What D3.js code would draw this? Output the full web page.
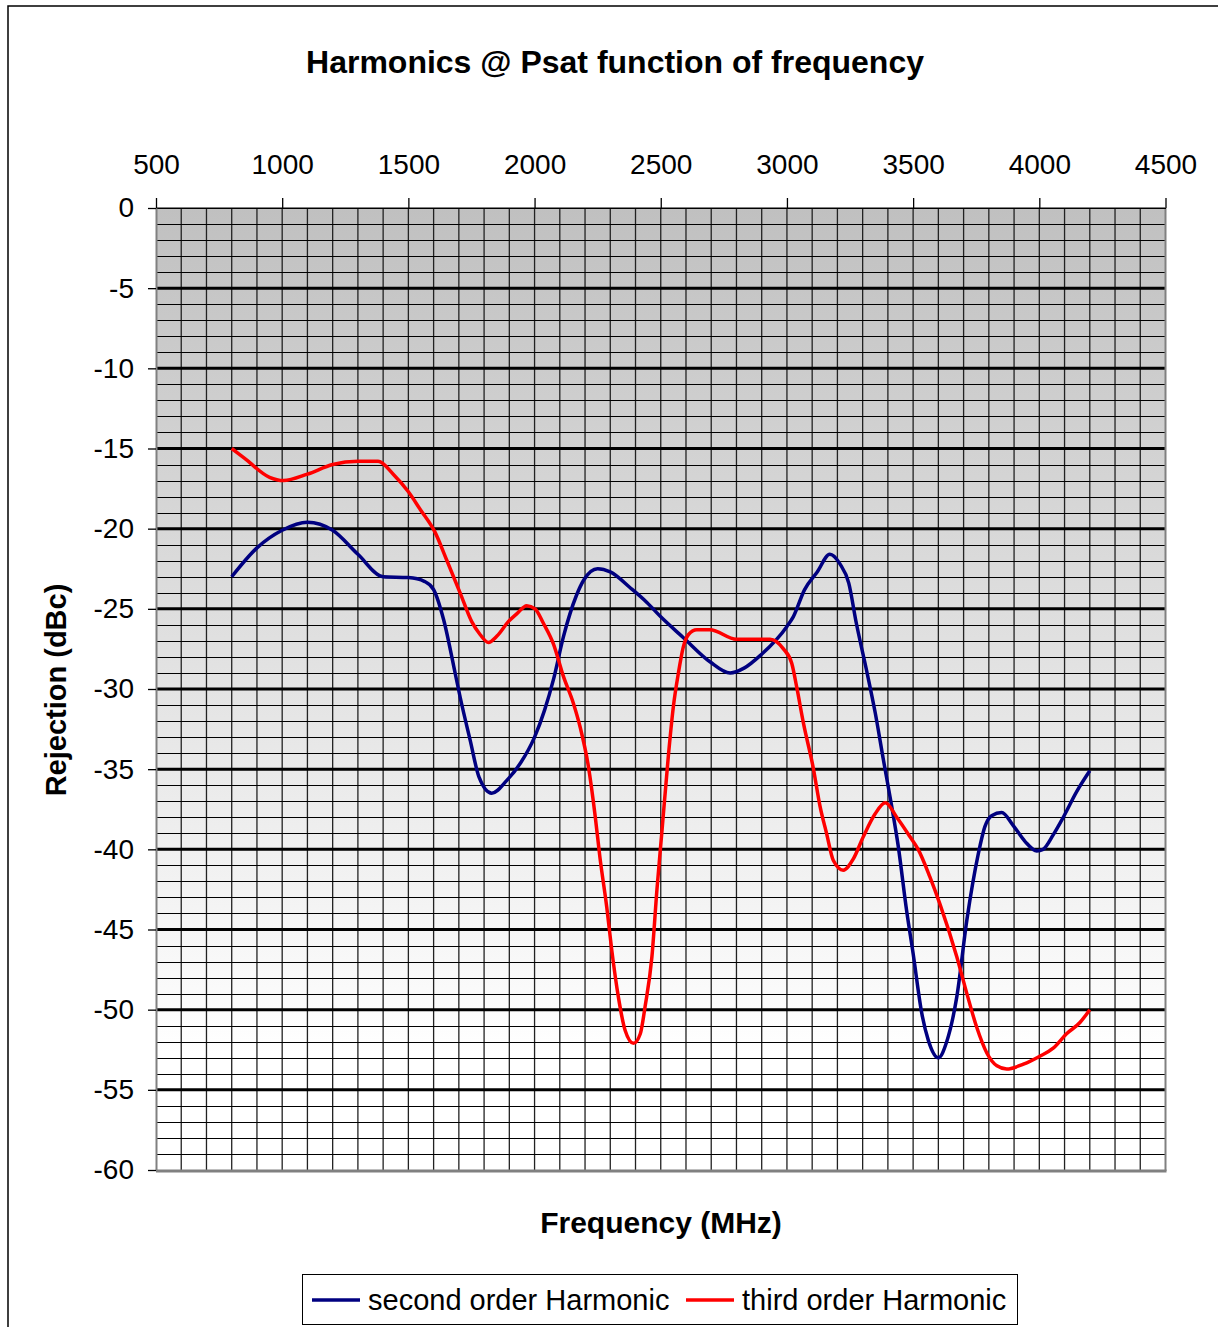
<!DOCTYPE html>
<html><head><meta charset="utf-8">
<script src="https://cdn.jsdelivr.net/npm/d3@7"></script>
<style>body{margin:0;background:#fff;} svg{display:block;font-family:"Liberation Sans",Arial,sans-serif;}</style>
</head><body>
<script>
const freq2 = [800,900,1000,1100,1200,1300,1400,1500,1565,1600,1640,1680,1705,1745,1780,1830,1890,1945,2000,2040,2075,2115,2165,2195,2250,2300,2380,2445,2500,2590,2695,2775,2830,2895,3000,3025,3070,3120,3170,3210,3245,3275,3315,3350,3382,3415,3441,3474,3500,3534,3560,3600,3633,3673,3713,3758,3784,3811,3851,3896,3943,3990,4015,4055,4095,4148,4200];
const second = [-23.0,-21.2,-20.1,-19.6,-20.1,-21.6,-23.0,-23.05,-23.3,-23.8,-25.7,-28.6,-30.5,-33.2,-35.5,-36.5,-35.7,-34.6,-33.0,-31.3,-29.4,-26.7,-24.2,-23.2,-22.5,-22.7,-23.7,-24.6,-25.5,-26.8,-28.3,-29.0,-28.7,-27.9,-26.1,-25.5,-23.8,-22.7,-21.6,-22.2,-23.4,-25.9,-28.8,-31.5,-34.4,-37.3,-39.8,-43.8,-46.5,-50.2,-51.9,-53.0,-52.0,-49.2,-44.4,-40.3,-38.6,-37.9,-37.7,-38.5,-39.5,-40.1,-40.0,-39.1,-38.0,-36.4,-35.1];
const freq3 = [800,850,950,1005,1100,1200,1300,1380,1440,1500,1547,1605,1653,1705,1751,1784,1817,1851,1896,1930,1969,2002,2035,2075,2114,2154,2181,2213,2240,2259,2286,2306,2332,2359,2392,2419,2438,2465,2485,2504,2530,2550,2570,2589,2610,2643,2695,2800,2933,2986,3019,3039,3065,3104,3131,3157,3184,3223,3263,3303,3349,3390,3435,3487,3520,3566,3606,3673,3713,3752,3792,3832,3871,3937,4002,4055,4108,4161,4200];
const third = [-15.0,-15.6,-16.8,-17.0,-16.6,-16.0,-15.8,-15.8,-16.6,-17.7,-18.8,-20.2,-22.0,-24.0,-25.8,-26.6,-27.1,-26.7,-25.8,-25.3,-24.8,-25.0,-25.9,-27.2,-29.2,-30.9,-32.4,-34.8,-37.9,-40.5,-43.6,-46.3,-49.2,-51.3,-52.1,-51.5,-49.8,-46.7,-42.5,-39.0,-34.2,-31.1,-29.0,-27.4,-26.6,-26.3,-26.3,-26.9,-26.9,-27.5,-28.4,-29.9,-32.1,-34.9,-37.3,-39.0,-40.7,-41.3,-40.6,-39.2,-37.8,-37.1,-38.0,-39.2,-40.0,-41.7,-43.4,-46.7,-49.0,-51.1,-52.7,-53.5,-53.7,-53.4,-52.9,-52.4,-51.5,-50.8,-50.0];
const xTicks = [500,1000,1500,2000,2500,3000,3500,4000,4500];
const yTicks = [0,-5,-10,-15,-20,-25,-30,-35,-40,-45,-50,-55,-60];
const seriesNames = ["second order Harmonic","third order Harmonic"];
const seriesColors = ["#000080","#ff0000"];
const titleText = "Harmonics @ Psat function of frequency";
const xTitle = "Frequency (MHz)";
const yTitle = "Rejection (dBc)";

const W = 1218, H = 1327;
const L = 156, R = 1165.5, T = 208, B = 1170;
const svg = d3.select("body").append("svg").attr("width", W).attr("height", H);

// outer frame
svg.append("rect").attr("x", 8).attr("y", 6).attr("width", 1300).attr("height", 1400)
  .attr("fill", "#fff").attr("stroke", "#000").attr("stroke-width", 1.5);

const x = d3.scaleLinear().domain([500, 4500]).range([L, R]);
const y = d3.scaleLinear().domain([0, -60]).range([T, B]);

const defs = svg.append("defs");
const grad = defs.append("linearGradient").attr("id", "bg").attr("x1", 0).attr("y1", 0).attr("x2", 0).attr("y2", 1);
grad.append("stop").attr("offset", "0%").attr("stop-color", "#c0c0c0");
grad.append("stop").attr("offset", "88%").attr("stop-color", "#ffffff");
grad.append("stop").attr("offset", "100%").attr("stop-color", "#ffffff");

svg.append("rect").attr("x", L).attr("y", T).attr("width", R - L).attr("height", B - T).attr("fill", "url(#bg)");

const g = svg.append("g");
// minor vertical grid (every 100 MHz)
const vMinor = d3.range(600, 4500, 100);
g.selectAll(".vm").data(vMinor).enter().append("line")
  .attr("x1", d => x(d)).attr("x2", d => x(d)).attr("y1", T).attr("y2", B)
  .attr("stroke", "#222").attr("stroke-width", 1.3);
// minor horizontal grid (every 1 dB)
const hMinor = d3.range(-1, -60, -1).filter(d => d % 5 !== 0);
g.selectAll(".hm").data(hMinor).enter().append("line")
  .attr("x1", L).attr("x2", R).attr("y1", d => Math.round(y(d)) + 0.5).attr("y2", d => Math.round(y(d)) + 0.5)
  .attr("stroke", "#000").attr("stroke-width", 1);
// major horizontal grid
g.selectAll(".hM").data(yTicks.filter(d => d !== 0 && d !== -60)).enter().append("line")
  .attr("x1", L).attr("x2", R).attr("y1", d => y(d)).attr("y2", d => y(d))
  .attr("stroke", "#000").attr("stroke-width", 3);
// top edge
g.append("line").attr("x1", L).attr("x2", R).attr("y1", T).attr("y2", T).attr("stroke", "#000").attr("stroke-width", 1);
// right & bottom edges
g.append("line").attr("x1", R).attr("x2", R).attr("y1", T).attr("y2", B + 1).attr("stroke", "#808080").attr("stroke-width", 2);
g.append("line").attr("x1", L).attr("x2", R + 1).attr("y1", B + 1).attr("y2", B + 1).attr("stroke", "#808080").attr("stroke-width", 3);

// top axis
const xAxis = d3.axisTop(x).tickValues(xTicks).tickSize(10).tickSizeOuter(0).tickPadding(24).tickFormat(d => String(d));
const xa = svg.append("g").attr("transform", `translate(0,${T})`).call(xAxis);
xa.select(".domain").attr("stroke", "#000").attr("stroke-width", 1);
xa.selectAll(".tick line").attr("stroke", "#000").attr("stroke-width", 1.3);
xa.selectAll(".tick text").attr("font-size", 28).attr("fill", "#000").attr("font-family", "Liberation Sans, Arial");

// left axis
const yAxis = d3.axisLeft(y).tickValues(yTicks).tickSize(8).tickSizeOuter(0).tickPadding(14).tickFormat(d => String(d));
const ya = svg.append("g").attr("transform", `translate(${L},0)`).call(yAxis);
ya.select(".domain").attr("stroke", "#808080").attr("stroke-width", 2);
ya.selectAll(".tick line").attr("stroke", "#000").attr("stroke-width", 1.3);
ya.selectAll(".tick text").attr("font-size", 28).attr("fill", "#000").attr("font-family", "Liberation Sans, Arial");

// lines
const line = d3.line().x(d => x(d[0])).y(d => y(d[1])).curve(d3.curveMonotoneX);
const data2 = freq2.map((f, i) => [f, second[i]]);
const data3 = freq3.map((f, i) => [f, third[i]]);
svg.append("path").datum(data2).attr("d", line).attr("fill", "none").attr("stroke", seriesColors[0]).attr("stroke-width", 3.5).attr("stroke-linejoin", "round");
svg.append("path").datum(data3).attr("d", line).attr("fill", "none").attr("stroke", seriesColors[1]).attr("stroke-width", 3.5).attr("stroke-linejoin", "round");

// titles
svg.append("text").attr("x", 615).attr("y", 73).attr("text-anchor", "middle")
  .attr("font-size", 32).attr("font-weight", "bold").text(titleText);
svg.append("text").attr("x", 661).attr("y", 1233).attr("text-anchor", "middle")
  .attr("font-size", 30).attr("font-weight", "bold").text(xTitle);
svg.append("text").attr("transform", "translate(66,690) rotate(-90)").attr("text-anchor", "middle")
  .attr("font-size", 29).attr("font-weight", "bold").text(yTitle);

// legend
const lg = svg.append("g");
lg.append("rect").attr("x", 302.5).attr("y", 1274.5).attr("width", 715).attr("height", 50)
  .attr("fill", "#fff").attr("stroke", "#000").attr("stroke-width", 1);
const legItems = [{x: 312, tx: 368}, {x: 686, tx: 742}];
legItems.forEach((it, i) => {
  lg.append("line").attr("x1", it.x).attr("x2", it.x + 48).attr("y1", 1300).attr("y2", 1300)
    .attr("stroke", seriesColors[i]).attr("stroke-width", 3.5);
  lg.append("text").attr("x", it.tx).attr("y", 1310).attr("font-size", 29).text(seriesNames[i]);
});
</script>
</body></html>
